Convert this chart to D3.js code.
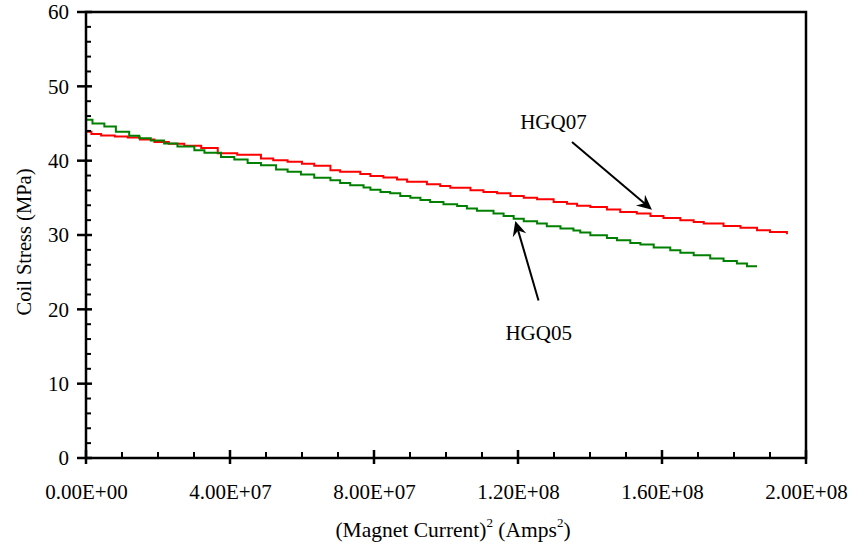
<!DOCTYPE html>
<html>
<head>
<meta charset="utf-8">
<script src="https://cdn.jsdelivr.net/npm/d3@7"></script>
<style>
  body { margin: 0; background: #fff; }
  svg text { font-family: "Liberation Serif", "Times New Roman", serif; fill: #000; }
</style>
</head>
<body>
<div id="chart"></div>
<script>
// current squared (units of 1e6 A^2) vs coil stress (MPa)
var hgq07_x = [0, 1.5, 4.2, 8, 11.6, 15, 19, 23, 27.3, 32, 36.6, 42, 48.6, 52, 56, 60, 63.4, 67.9,
  70.6, 76.2, 79, 82.6, 86.4, 89.2, 94.7, 98.4, 101.2, 106.8, 110.4, 114.2, 117.9, 121.6, 125.3,
  129.9, 133.6, 136.4, 140.1, 144.7, 148.4, 153, 156.8, 160.4, 165.1, 168.8, 171.6, 177.1, 181.8,
  186.4, 190, 194.7];
var hgq07_y = [43.9, 43.6, 43.4, 43.25, 43.1, 42.85, 42.5, 42.26, 42.0, 41.7, 41.0, 40.8, 40.3, 40.07, 39.84, 39.6, 39.3, 38.72,
  38.5, 38.2, 37.95, 37.74, 37.47, 37.15, 36.84, 36.6, 36.34, 36.03, 35.8, 35.6, 35.26, 35.0, 34.8,
  34.45, 34.2, 33.95, 33.78, 33.43, 33.1, 32.9, 32.57, 32.3, 32.0, 31.76, 31.55, 31.22, 30.96,
  30.65, 30.4, 30.1];

var hgq05_x = [0, 1.8, 5.1, 8.3, 12, 14.8, 18, 21.7, 25.4, 30.1, 32.9, 37.5, 41.2, 44.9, 48.6, 52.8, 56,
  59.7, 63.4, 67.9, 70.6, 73.4, 77.1, 79, 81.8, 84.5, 87.3, 90.1, 92.9, 95.6, 99.3, 103.1, 105.8,
  108.6, 113.2, 116, 118.8, 121.6, 125.3, 128, 131.8, 135.4, 137.3, 140.1, 144.7, 147.5, 151.2,
  154, 157.7, 162.3, 165.1, 168.8, 173.4, 177.1, 180.8, 183.6, 186.4];
var hgq05_y = [45.5, 45.0, 44.6, 43.9, 43.35, 43.0, 42.7, 42.3, 41.9, 41.4, 41.05, 40.5, 40.15, 39.7, 39.4, 38.8, 38.5,
  38.15, 37.7, 37.38, 37.0, 36.7, 36.4, 36.1, 35.8, 35.6, 35.26, 35.0, 34.7, 34.45, 34.15, 33.9, 33.56,
  33.25, 32.9, 32.57, 32.2, 31.86, 31.55, 31.18, 30.87, 30.6, 30.34, 29.97, 29.6, 29.3, 28.94,
  28.72, 28.32, 27.95, 27.6, 27.28, 26.84, 26.5, 26.16, 25.8, 25.8];

var xTicks = [0, 4e7, 8e7, 1.2e8, 1.6e8, 2e8];
var xTickLabels = ["0.00E+00", "4.00E+07", "8.00E+07", "1.20E+08", "1.60E+08", "2.00E+08"];
var xMinor = d3.range(1e7, 2e8, 1e7).filter(function(v) { return v % 4e7 !== 0; });
var yTicks = [0, 10, 20, 30, 40, 50, 60];
var yMinor = d3.range(2, 60, 2).filter(function(v) { return v % 10 !== 0; });

var width = 855, height = 544;
var margin = {top: 12, left: 86, right: 49, bottom: 86};
var w = width - margin.left - margin.right,
    h = height - margin.top - margin.bottom;

var x = d3.scaleLinear().domain([0, 2e8]).range([0, w]);
var y = d3.scaleLinear().domain([0, 60]).range([h, 0]);

var svg = d3.select("#chart").append("svg")
    .attr("width", width)
    .attr("height", height);
var g = svg.append("g")
    .attr("transform", "translate(" + margin.left + "," + margin.top + ")");

function toPoints(xs, ys) {
  return xs.map(function(v, i) { return [v * 1e6, ys[i]]; });
}

var line = d3.line()
    .x(function(d) { return x(d[0]); })
    .y(function(d) { return y(d[1]); })
    .curve(d3.curveStepAfter);

g.append("path")
    .datum(toPoints(hgq07_x, hgq07_y))
    .attr("fill", "none")
    .attr("stroke", "#ff0000")
    .attr("stroke-width", 2)
    .attr("d", line);

g.append("path")
    .datum(toPoints(hgq05_x, hgq05_y))
    .attr("fill", "none")
    .attr("stroke", "#008000")
    .attr("stroke-width", 2)
    .attr("d", line);

// frame
g.append("rect")
    .attr("width", w).attr("height", h)
    .attr("fill", "none")
    .attr("stroke", "#000")
    .attr("stroke-width", 2.5);

// tick marks
g.selectAll(".ymaj").data(yTicks).enter().append("line")
    .attr("x1", -9).attr("x2", 6)
    .attr("y1", y).attr("y2", y)
    .attr("stroke", "#000").attr("stroke-width", 2.5);
g.selectAll(".ymin").data(yMinor).enter().append("line")
    .attr("x1", 0).attr("x2", 5)
    .attr("y1", y).attr("y2", y)
    .attr("stroke", "#000").attr("stroke-width", 2);
g.selectAll(".xmaj").data(xTicks).enter().append("line")
    .attr("x1", x).attr("x2", x)
    .attr("y1", h - 8).attr("y2", h + 6)
    .attr("stroke", "#000").attr("stroke-width", 2.5);
g.selectAll(".xmin").data(xMinor).enter().append("line")
    .attr("x1", x).attr("x2", x)
    .attr("y1", h - 6).attr("y2", h)
    .attr("stroke", "#000").attr("stroke-width", 2);

// tick labels via axes
var yAxis = g.append("g")
    .call(d3.axisLeft(y).tickValues(yTicks).tickSize(0).tickPadding(17));
var xAxis = g.append("g")
    .attr("transform", "translate(0," + h + ")")
    .call(d3.axisBottom(x).tickValues(xTicks).tickSize(0).tickPadding(26)
      .tickFormat(function(d, i) { return xTickLabels[i]; }));
[yAxis, xAxis].forEach(function(a) {
  a.attr("font-family", null);
  a.select(".domain").remove();
  a.selectAll("text")
    .style("font-family", "'Liberation Serif', serif")
    .style("font-size", "21px");
});

// axis titles
svg.append("text")
    .attr("transform", "translate(31," + (margin.top + y(30) + 7) + ") rotate(-90)")
    .attr("text-anchor", "middle")
    .style("font-size", "20.5px")
    .text("Coil Stress (MPa)");

var xt = svg.append("text")
    .attr("x", margin.left + x(1.0e8) + 7)
    .attr("y", 537)
    .attr("text-anchor", "middle")
    .style("font-size", "21.5px");
xt.append("tspan").text("(Magnet Current)");
xt.append("tspan").attr("dy", -10).style("font-size", "13px").text("2");
xt.append("tspan").attr("dy", 10).text(" (Amps");
xt.append("tspan").attr("dy", -10).style("font-size", "13px").text("2");
xt.append("tspan").attr("dy", 10).text(")");

// annotations (data coordinates)
var notes = [
  {label: "HGQ07", lx: 120.6e6, ly: 44.3, x1: 135e6, y1: 42.5, x2: 157.2e6, y2: 33.4},
  {label: "HGQ05", lx: 116.5e6, ly: 15.9, x1: 125.7e6, y1: 21.2, x2: 119.25e6, y2: 31.9}
];

notes.forEach(function(n) {
  g.append("text")
      .attr("x", x(n.lx)).attr("y", y(n.ly))
      .style("font-size", "21px")
      .text(n.label);
  var ax1 = x(n.x1), ay1 = y(n.y1), ax2 = x(n.x2), ay2 = y(n.y2);
  var ang = Math.atan2(ay2 - ay1, ax2 - ax1);
  var len = Math.hypot(ax2 - ax1, ay2 - ay1);
  var ag = g.append("g")
      .attr("transform", "translate(" + ax1 + "," + ay1 + ") rotate(" + (ang * 180 / Math.PI) + ")");
  ag.append("line")
      .attr("x1", 0).attr("x2", len - 6)
      .attr("y1", 0).attr("y2", 0)
      .attr("stroke", "#000").attr("stroke-width", 2);
  ag.append("path")
      .attr("d", "M" + len + ",0 L" + (len - 15) + ",-7 L" + (len - 10) + ",0 L" + (len - 15) + ",7 Z")
      .attr("fill", "#000");
});
</script>
</body>
</html>
